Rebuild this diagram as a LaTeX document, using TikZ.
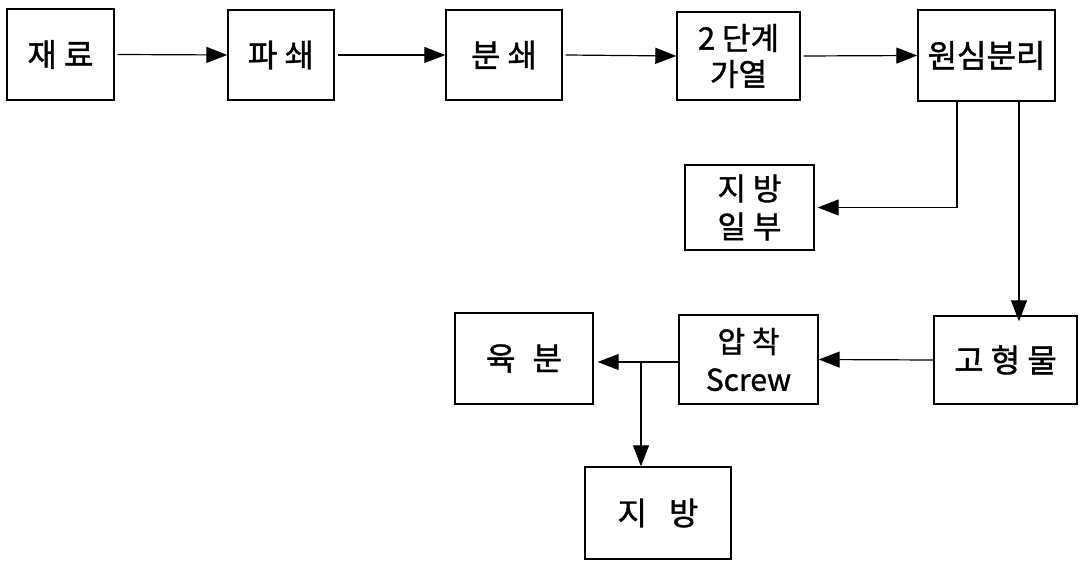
\documentclass[tikz,border=0pt]{standalone}
\usepackage{fontspec}
\newfontfamily\kr[FakeBold=1.2]{Noto Sans CJK KR}
\usetikzlibrary{arrows.meta}
\begin{document}
\begin{tikzpicture}[x=1pt,y=-1pt,
  box/.style={draw, line width=1.4pt, inner sep=0pt, align=center,
    font=\kr\fontsize{32}{36}\selectfont},
  arr/.style={line width=1.2pt, -{Triangle[length=21pt,width=16pt]}}]
\useasboundingbox (0,0) rectangle (1081,561);
% top row
\node[box, minimum width=107pt, minimum height=91pt] (a) at (60.5,54.5) {재 료};
\node[box, minimum width=106pt, minimum height=90pt] (b) at (281,55) {파 쇄};
\node[box, minimum width=116pt, minimum height=90pt] (c) at (504,55) {분 쇄};
\node[box, minimum width=123pt, minimum height=88pt, font=\kr\fontsize{31}{36}\selectfont] (d) at (738.5,56) {2 단계\\가열};
\node[box, minimum width=137pt, minimum height=91pt] (e) at (986.5,55.5) {원심분리};
% middle
\node[box, minimum width=129pt, minimum height=85pt, font=\kr\fontsize{31}{38}\selectfont] (f) at (749.5,207.5) {지 방\\일 부};
% lower row
\node[box, minimum width=143pt, minimum height=88pt] (g) at (1005.5,360) {고 형 물};
\node[box, minimum width=139pt, minimum height=89pt, font=\kr\fontsize{30}{38}\selectfont] (h) at (748.5,359.5) {압 착\\Screw};
\node[box, minimum width=138pt, minimum height=91pt] (i) at (524,358.5) {육\hspace{17pt}분};
\node[box, minimum width=146pt, minimum height=92pt] (j) at (658,513) {지\hspace{22pt}방};
% helper coordinates
\coordinate (k1) at (957,0);
\coordinate (k2) at (1019,0);
\coordinate (br) at (641,362);
% connectors
\draw[arr] ([xshift=3pt]a.east) -- (b.west);
\draw[arr] ([xshift=3pt]b.east) -- (c.west);
\draw[arr] ([xshift=3pt]c.east) -- (d.west);
\draw[arr] ([xshift=3pt]d.east) -- (e.west);
\draw[arr] (e.south -| k1) |- ([xshift=3pt]f.east);
\draw[arr] (e.south -| k2) -- ([yshift=-6pt]g.north -| k2);
\draw[arr] (g.west) -- (h.east);
\draw[arr] (h.west |- br) -- ([xshift=4pt]i.east |- br);
\draw[arr] (br) -- (j.north -| br);
\end{tikzpicture}
\end{document}
